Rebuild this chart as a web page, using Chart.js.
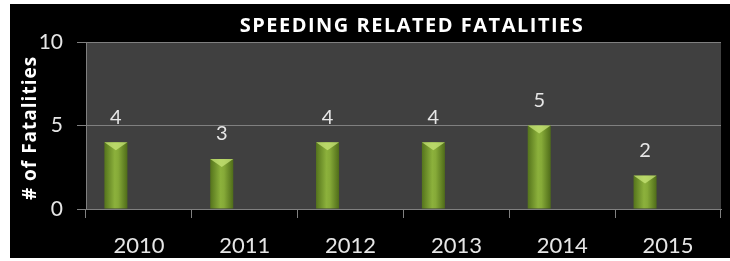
<!DOCTYPE html>
<html>
<head>
<meta charset="utf-8">
<script src="https://cdn.jsdelivr.net/npm/chart.js@4"></script>
<style>
  html, body { margin: 0; padding: 0; background: #fff; }
  #wrap { position: absolute; left: 10px; top: 4px; width: 720px; height: 254px; background: #000; }
</style>
</head>
<body>
<div id="wrap"><canvas id="chart"></canvas></div>
<script>
// ---------------- DATA ----------------
const years = ["2010", "2011", "2012", "2013", "2014", "2015"];
const fatalities = [4, 3, 4, 4, 5, 2];
const spacer = [null, null, null, null, null, null]; // empty second slot, pushes bars left like the original
const yTicks = [0, 5, 10];
const chartTitle = "SPEEDING RELATED FATALITIES";
const yTitle = "# of Fatalities";

const FONT = "Lato, 'Open Sans', sans-serif";
const BOLD = "'Open Sans', sans-serif";

// plot background, title, y axis title
const framePlugin = {
  id: "frame",
  beforeDraw(chart) {
    const { ctx, chartArea: a } = chart;
    ctx.save();
    ctx.fillStyle = "#404040";
    ctx.fillRect(a.left, a.top, a.right - a.left, a.bottom - a.top);
    ctx.fillStyle = "#ffffff";
    ctx.font = "bold 20px " + BOLD;
    ctx.letterSpacing = "1.5px";
    ctx.textAlign = "center";
    ctx.textBaseline = "middle";
    ctx.fillText(chartTitle, 402, 22);

    ctx.font = "bold 19px " + BOLD;
    ctx.letterSpacing = "1px";
    ctx.translate(21, 124);
    ctx.rotate(-Math.PI / 2);
    ctx.fillText(yTitle, 0, 0);
    ctx.restore();
  }
};

// green cylinder-ish look for each bar
const barLook = {
  id: "barLook",
  beforeDatasetsDraw(chart) {
    const { ctx } = chart;
    chart.getDatasetMeta(0).data.forEach(bar => {
      const w = bar.width;
      const g = ctx.createLinearGradient(bar.x - w / 2, 0, bar.x + w / 2, 0);
      g.addColorStop(0, "#55741c");
      g.addColorStop(0.45, "#8cb13c");
      g.addColorStop(0.6, "#86aa38");
      g.addColorStop(1, "#4f6c19");
      bar.options.backgroundColor = g;
    });
  },
  afterDatasetsDraw(chart) {
    const { ctx } = chart;
    ctx.save();
    chart.getDatasetMeta(0).data.forEach((bar, i) => {
      const w = bar.width;
      // top highlight
      ctx.fillStyle = "rgba(200,230,120,0.75)";
      ctx.beginPath();
      ctx.moveTo(bar.x - w / 2, bar.y);
      ctx.lineTo(bar.x + w / 2, bar.y);
      ctx.lineTo(bar.x, bar.y + 8);
      ctx.closePath();
      ctx.fill();
      // value label
      ctx.fillStyle = "#e6e6e6";
      ctx.font = "20px " + FONT;
      ctx.textAlign = "center";
      ctx.textBaseline = "middle";
      ctx.fillText(String(fatalities[i]), bar.x, bar.y - 25);
    });
    ctx.restore();
  }
};

new Chart(document.getElementById("chart"), {
  type: "bar",
  data: {
    labels: years,
    datasets: [
      // scriptable so every bar gets its own options object
      { label: "Fatalities", data: fatalities, backgroundColor: () => "#7da032", borderWidth: 0 },
      { label: "", data: spacer }
    ]
  },
  options: {
    responsive: true,
    maintainAspectRatio: false,
    animation: false,
    categoryPercentage: 0.87,
    barPercentage: 0.5,
    layout: { padding: { top: 38, right: 9, left: 0, bottom: 0 } },
    plugins: {
      legend: { display: false },
      tooltip: { enabled: false }
    },
    scales: {
      x: {
        afterFit(s) { s.height = 49; },
        grid: { offset: true, drawOnChartArea: false, drawTicks: true, tickLength: 9, color: "#808080" },
        border: { color: "#808080" },
        ticks: { color: "#e6e6e6", font: { family: FONT, size: 22 }, padding: 15 }
      },
      y: {
        min: 0,
        max: 10,
        afterFit(s) { s.width = 76; },
        afterBuildTicks(s) { s.ticks = yTicks.map(v => ({ value: v })); },
        grid: { color: "#808080", tickLength: 9 },
        border: { color: "#808080" },
        ticks: { color: "#e6e6e6", font: { family: FONT, size: 21 }, padding: 14 }
      }
    }
  },
  plugins: [framePlugin, barLook]
});
</script>
</body>
</html>
